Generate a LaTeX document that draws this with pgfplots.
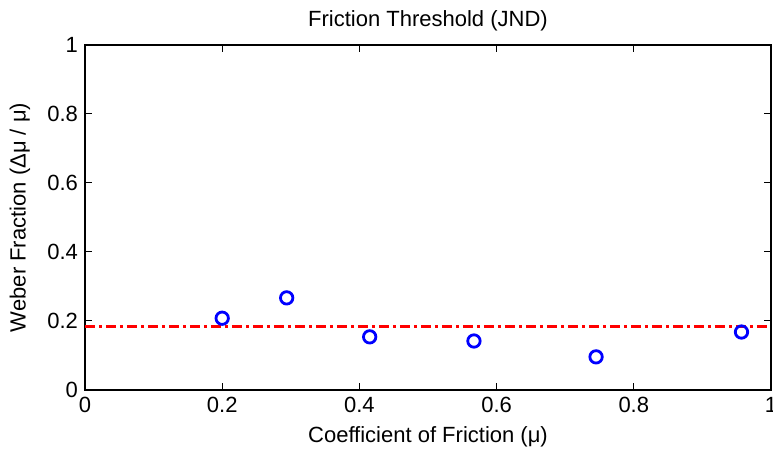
\documentclass[border=0pt]{standalone}
\usepackage{pgfplots}
\pgfplotsset{compat=1.18}
\usepackage{fontspec}
\setmainfont{Liberation Sans}
\begin{document}
\begin{tikzpicture}
\begin{axis}[
  scale only axis,
  width=343pt, height=172.5pt,
  xmin=0, xmax=1, ymin=0, ymax=1,
  xtick={0,0.2,0.4,0.6,0.8,1},
  ytick={0,0.2,0.4,0.6,0.8,1},
  tick align=inside,
  major tick length=3.5pt,
  axis line style={line width=0.6pt},
  tick style={line width=0.5pt, black},
  /pgf/number format/assume math mode=true,
  ticklabel style={font=\fontsize{11}{13}\selectfont},
  title={Friction Threshold (JND)},
  title style={font=\fontsize{11}{13}\selectfont, at={(0.5,1)}, anchor=center, yshift=6pt},
  xlabel={Coefficient of Friction (μ)},
  ylabel={Weber Fraction (Δμ / μ)},
  label style={font=\fontsize{11}{13}\selectfont},
  xlabel style={at={(axis description cs:0.5,0)}, anchor=center, yshift=-23.5pt},
  ylabel style={at={(axis description cs:-0.0948,0.5)}, anchor=center},
  clip=false,
]
\addplot[red, line width=1.5pt, dash pattern=on 5pt off 2pt on 1.5pt off 2pt] coordinates {(0,0.183) (1,0.183)};
\addplot[only marks, mark=o, mark size=3.1pt, blue, mark options={line width=1.4pt}] coordinates {
(0.200,0.208) (0.294,0.267) (0.415,0.154) (0.567,0.142) (0.745,0.096) (0.957,0.168)};
\end{axis}
\pgfresetboundingbox
\path[use as bounding box] ([shift={(-42.5pt,-31pt)}]current axis.south west) rectangle ([shift={(1pt,22.5pt)}]current axis.north east);
\end{tikzpicture}
\end{document}
